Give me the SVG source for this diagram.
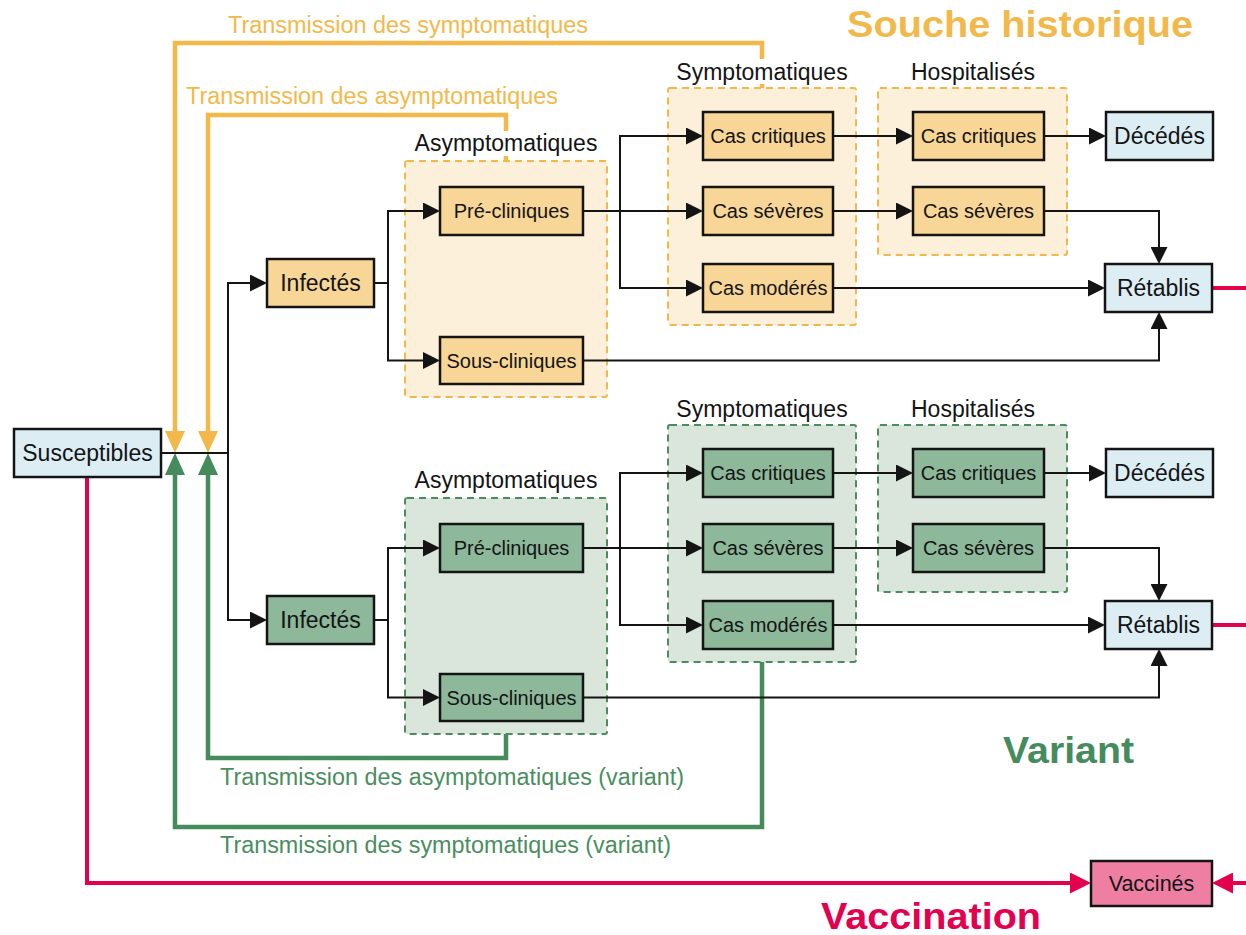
<svg xmlns="http://www.w3.org/2000/svg" width="1246" height="935" viewBox="0 0 1246 935">
<style>
text{font-family:"Liberation Sans",Arial,Helvetica,sans-serif}
.box{stroke:#141414;stroke-width:2.5}
.fo{fill:#F7D697}
.fg{fill:#8DB89A}
.fb{fill:#DCEEF4}
.fp{fill:#EE7EA2}
.gO{fill:#FCF0DA;stroke:#F2B94A;stroke-width:2;stroke-dasharray:7 5}
.gG{fill:#DAE6DC;stroke:#4A8C5E;stroke-width:2;stroke-dasharray:7 5}
.l{font-size:20px;text-anchor:middle;fill:#141414}
.lb{font-size:23px;text-anchor:middle;fill:#141414}
.gl{font-size:23px;text-anchor:middle;fill:#141414}
.bgw{fill:#ffffff}
.k{fill:none;stroke:#141414;stroke-width:2}
.o{fill:none;stroke:#F2B94A;stroke-width:4.5}
.g{fill:none;stroke:#458B5C;stroke-width:4.5}
.r{fill:none;stroke:#E2004F;stroke-width:4}
.to{font-size:23px;fill:#F2B94A}
.tg{font-size:23px;fill:#4A8E60}
.title{font-weight:bold}
</style>
<defs>
<marker id="ak" markerUnits="userSpaceOnUse" viewBox="0 -8.5 17 17" markerWidth="17" markerHeight="17" refX="0" refY="0" orient="auto"><path d="M0,-8.5 L17,0 L0,8.5 z" fill="#141414"/></marker>
<marker id="ao" markerUnits="userSpaceOnUse" viewBox="0 -10 22 20" markerWidth="22" markerHeight="20" refX="0" refY="0" orient="auto"><path d="M0,-10 L22,0 L0,10 z" fill="#F2B94A"/></marker>
<marker id="ag" markerUnits="userSpaceOnUse" viewBox="0 -10 22 20" markerWidth="22" markerHeight="20" refX="0" refY="0" orient="auto"><path d="M0,-10 L22,0 L0,10 z" fill="#458B5C"/></marker>
<marker id="ar" markerUnits="userSpaceOnUse" viewBox="0 -10.5 21 21" markerWidth="21" markerHeight="21" refX="0" refY="0" orient="auto"><path d="M0,-10.5 L21,0 L0,10.5 z" fill="#E2004F"/></marker>
</defs>

<!-- group containers -->
<g id="containers">
<rect id="grp-asym-h" class="gO" x="405" y="161" width="202" height="236" rx="2"/>
<rect id="grp-sym-h" class="gO" x="668" y="88" width="188" height="237" rx="2"/>
<rect id="grp-hosp-h" class="gO" x="878" y="88" width="189" height="167" rx="2"/>
<rect id="grp-asym-v" class="gG" x="405" y="498" width="202" height="236" rx="2"/>
<rect id="grp-sym-v" class="gG" x="668" y="425" width="188" height="237" rx="2"/>
<rect id="grp-hosp-v" class="gG" x="878" y="425" width="189" height="167" rx="2"/>
</g>

<g id="connectors">
<!-- transmission loops -->
<path class="o" d="M762,88 V43 H175 V431" marker-end="url(#ao)"/>
<path class="o" d="M506,161 V115 H208 V431" marker-end="url(#ao)"/>
<path class="g" d="M762,662 V827 H175 V475" marker-end="url(#ag)"/>
<path class="g" d="M506,734 V758 H208 V475" marker-end="url(#ag)"/>
<!-- vaccination -->
<path class="r" d="M87,478 V883 H1070" marker-end="url(#ar)"/>
<path class="r" d="M1246,883 H1233" marker-end="url(#ar)"/>
<path class="r" d="M1212,288 H1246"/>
<path class="r" d="M1212,625 H1246"/>
<!-- susceptibles to infected -->
<path class="k" d="M161,453 H228"/>
<path class="k" d="M228,453 V283 H250" marker-end="url(#ak)"/>
<path class="k" d="M228,453 V620 H250" marker-end="url(#ak)"/>
<!-- historical strain -->
<path class="k" d="M374,283 H388 V211 H423" marker-end="url(#ak)"/>
<path class="k" d="M388,283 V360.5 H423" marker-end="url(#ak)"/>
<path class="k" d="M583,211 H686" marker-end="url(#ak)"/>
<path class="k" d="M620,211 V136 H686" marker-end="url(#ak)"/>
<path class="k" d="M620,211 V288 H686" marker-end="url(#ak)"/>
<path class="k" d="M833,136 H896" marker-end="url(#ak)"/>
<path class="k" d="M833,211 H896" marker-end="url(#ak)"/>
<path class="k" d="M1044,136 H1089" marker-end="url(#ak)"/>
<path class="k" d="M1044,211 H1159 V247" marker-end="url(#ak)"/>
<path class="k" d="M833,288 H1088" marker-end="url(#ak)"/>
<path class="k" d="M583,360.5 H1159 V329" marker-end="url(#ak)"/>
<!-- variant -->
<path class="k" d="M374,620 H388 V548 H423" marker-end="url(#ak)"/>
<path class="k" d="M388,620 V697.5 H423" marker-end="url(#ak)"/>
<path class="k" d="M583,548 H686" marker-end="url(#ak)"/>
<path class="k" d="M620,548 V473 H686" marker-end="url(#ak)"/>
<path class="k" d="M620,548 V625 H686" marker-end="url(#ak)"/>
<path class="k" d="M833,473 H896" marker-end="url(#ak)"/>
<path class="k" d="M833,548 H896" marker-end="url(#ak)"/>
<path class="k" d="M1044,473 H1089" marker-end="url(#ak)"/>
<path class="k" d="M1044,548 H1159 V584" marker-end="url(#ak)"/>
<path class="k" d="M833,625 H1088" marker-end="url(#ak)"/>
<path class="k" d="M583,697.5 H1159 V666" marker-end="url(#ak)"/>
</g>

<!-- group labels -->
<g id="group-labels">
<rect class="bgw" x="412" y="131" width="188" height="25"/>
<text class="gl" x="506" y="151">Asymptomatiques</text>
<rect class="bgw" x="672" y="59" width="180" height="25"/>
<text class="gl" x="762" y="80">Symptomatiques</text>
<text class="gl" x="973" y="80">Hospitalisés</text>
<text class="gl" x="506" y="488">Asymptomatiques</text>
<text class="gl" x="762" y="417">Symptomatiques</text>
<text class="gl" x="973" y="417">Hospitalisés</text>
</g>

<!-- nodes -->
<g id="susceptibles"><rect class="box fb" x="14" y="429" width="147" height="48"/><text class="lb" x="87.5" y="461">Susceptibles</text></g>

<g id="infectes-h"><rect class="box fo" x="267" y="259" width="107" height="48"/><text class="lb" x="320.5" y="291">Infectés</text></g>
<g id="precliniques-h"><rect class="box fo" x="440" y="187" width="143" height="48"/><text class="l" x="511.5" y="218">Pré-cliniques</text></g>
<g id="souscliniques-h"><rect class="box fo" x="440" y="337" width="143" height="47"/><text class="l" x="511.5" y="367.5">Sous-cliniques</text></g>
<g id="critiques-sym-h"><rect class="box fo" x="703" y="112" width="130" height="48"/><text class="l" x="768" y="143">Cas critiques</text></g>
<g id="severes-sym-h"><rect class="box fo" x="703" y="187" width="130" height="48"/><text class="l" x="768" y="218">Cas sévères</text></g>
<g id="moderes-h"><rect class="box fo" x="703" y="264" width="130" height="48"/><text class="l" x="768" y="295">Cas modérés</text></g>
<g id="critiques-hosp-h"><rect class="box fo" x="913" y="112" width="131" height="48"/><text class="l" x="978.5" y="143">Cas critiques</text></g>
<g id="severes-hosp-h"><rect class="box fo" x="913" y="187" width="131" height="48"/><text class="l" x="978.5" y="218">Cas sévères</text></g>
<g id="decedes-h"><rect class="box fb" x="1106" y="112" width="107" height="48"/><text class="lb" x="1159.5" y="144">Décédés</text></g>
<g id="retablis-h"><rect class="box fb" x="1105" y="264" width="107" height="48"/><text class="lb" x="1158.5" y="296">Rétablis</text></g>

<g id="infectes-v"><rect class="box fg" x="267" y="596" width="107" height="48"/><text class="lb" x="320.5" y="628">Infectés</text></g>
<g id="precliniques-v"><rect class="box fg" x="440" y="524" width="143" height="48"/><text class="l" x="511.5" y="555">Pré-cliniques</text></g>
<g id="souscliniques-v"><rect class="box fg" x="440" y="674" width="143" height="47"/><text class="l" x="511.5" y="704.5">Sous-cliniques</text></g>
<g id="critiques-sym-v"><rect class="box fg" x="703" y="449" width="130" height="48"/><text class="l" x="768" y="480">Cas critiques</text></g>
<g id="severes-sym-v"><rect class="box fg" x="703" y="524" width="130" height="48"/><text class="l" x="768" y="555">Cas sévères</text></g>
<g id="moderes-v"><rect class="box fg" x="703" y="601" width="130" height="48"/><text class="l" x="768" y="632">Cas modérés</text></g>
<g id="critiques-hosp-v"><rect class="box fg" x="913" y="449" width="131" height="48"/><text class="l" x="978.5" y="480">Cas critiques</text></g>
<g id="severes-hosp-v"><rect class="box fg" x="913" y="524" width="131" height="48"/><text class="l" x="978.5" y="555">Cas sévères</text></g>
<g id="decedes-v"><rect class="box fb" x="1106" y="449" width="107" height="48"/><text class="lb" x="1159.5" y="481">Décédés</text></g>
<g id="retablis-v"><rect class="box fb" x="1105" y="601" width="107" height="48"/><text class="lb" x="1158.5" y="633">Rétablis</text></g>

<g id="vaccines"><rect class="box fp" x="1091" y="861" width="121" height="45"/><text class="l" x="1151.5" y="891" style="font-size:21.5px">Vaccinés</text></g>

<!-- free labels -->
<g id="labels">
<text class="to" x="228" y="33" textLength="360" lengthAdjust="spacingAndGlyphs">Transmission des symptomatiques</text>
<text class="to" x="186" y="104" textLength="372" lengthAdjust="spacingAndGlyphs">Transmission des asymptomatiques</text>
<text class="tg" x="220" y="785" textLength="464" lengthAdjust="spacingAndGlyphs">Transmission des asymptomatiques (variant)</text>
<text class="tg" x="220" y="853" textLength="451" lengthAdjust="spacingAndGlyphs">Transmission des symptomatiques (variant)</text>
<text class="title" x="847" y="37" style="font-size:37px;fill:#F2B94A" textLength="346" lengthAdjust="spacingAndGlyphs">Souche historique</text>
<text class="title" x="1003" y="763" style="font-size:36px;fill:#458B5C" textLength="131" lengthAdjust="spacingAndGlyphs">Variant</text>
<text class="title" x="821" y="929" style="font-size:37px;fill:#E2004F" textLength="220" lengthAdjust="spacingAndGlyphs">Vaccination</text>
</g>
</svg>
